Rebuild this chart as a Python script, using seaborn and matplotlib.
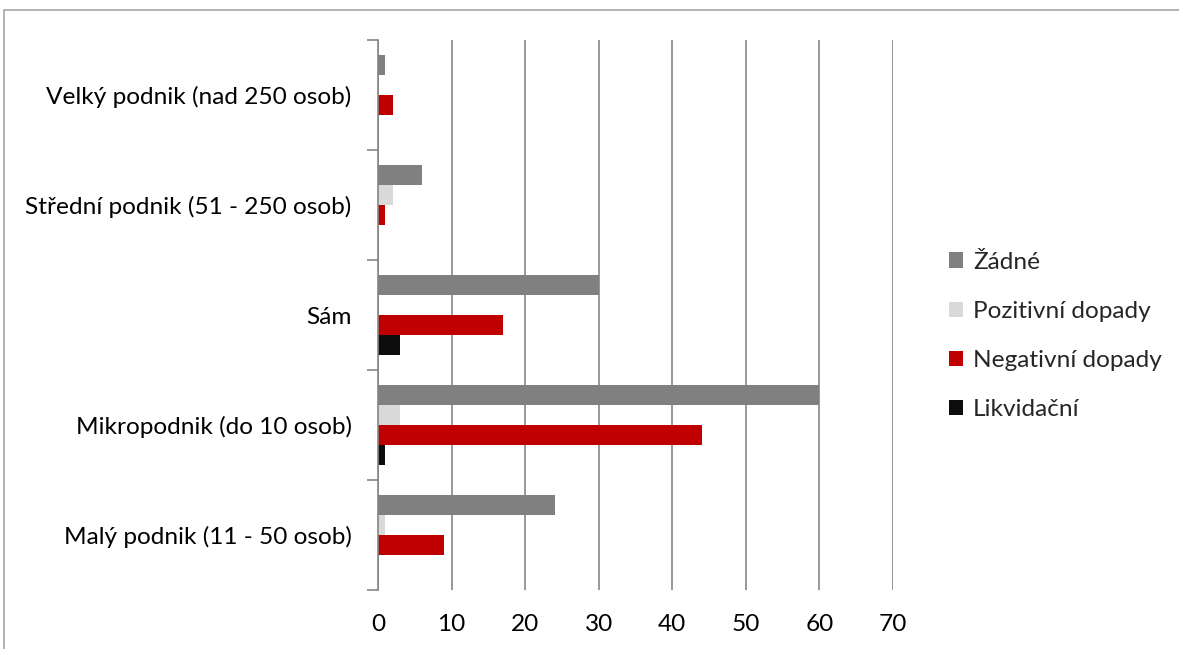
import pandas as pd
import numpy as np
import seaborn as sns
import matplotlib.pyplot as plt
from matplotlib.patches import Rectangle, Patch

# data
categories = ['Velký podnik (nad 250 osob)', 'Střední podnik (51 - 250 osob)', 'Sám',
              'Mikropodnik (do 10 osob)', 'Malý podnik (11 - 50 osob)']
series = ['Žádné', 'Pozitivní dopady', 'Negativní dopady', 'Likvidační']
zadne = [1, 6, 30, 60, 24]
pozitivni = [0, 2, 0, 3, 1]
negativni = [2, 1, 17, 44, 9]
likvidacni = [0, 0, 3, 1, 0]
colors = ['#808080', '#d9d9d9', '#c00000', '#0d0d0d']

rows = []
for name, vals in zip(series, [zadne, pozitivni, negativni, likvidacni]):
    for cat, v in zip(categories, vals):
        rows.append({'Kategorie': cat, 'Dopad': name, 'Počet': v})
df = pd.DataFrame(rows)

sns.set_style('white')
plt.rcParams['font.family'] = ['Lato', 'DejaVu Sans']

fig = plt.figure(figsize=(11.79, 6.49), dpi=100)
ax = fig.add_axes([378 / 1179, 1 - 590 / 649, (893 - 378) / 1179, 550 / 649])

sns.barplot(data=df, y='Kategorie', x='Počet', hue='Dopad', order=categories,
            hue_order=series, palette=colors, orient='h', width=0.73,
            saturation=1, linewidth=0, ax=ax, legend=False)

ax.set_xlim(0, 70)
ax.set_ylim(4.5, -0.5)
ax.set_xticks(range(0, 71, 10))
ax.xaxis.grid(True, color='#868686', linewidth=1.2)
ax.set_axisbelow(True)
ax.set_xlabel('')
ax.set_ylabel('')

for s in ['top', 'right', 'bottom']:
    ax.spines[s].set_visible(False)
ax.spines['left'].set_color('#868686')
ax.spines['left'].set_linewidth(1.2)

ax.set_yticks(np.arange(-0.5, 5, 1), minor=True)
ax.tick_params(axis='y', which='minor', length=8, color='#868686', width=1.2, direction='out', left=True)
ax.tick_params(axis='y', which='major', length=0, pad=19, labelsize=17.6, labelcolor='black')
ax.tick_params(axis='x', length=0, pad=17, labelsize=17.6, labelcolor='black')

handles = [Patch(facecolor=c, edgecolor='none') for c in colors]
fig.legend(handles, series, loc='upper left', bbox_to_anchor=(939 / 1179, 1 - 242 / 649),
           frameon=False, fontsize=17.6, handlelength=0.6, handleheight=0.6,
           handletextpad=0.4, labelspacing=1.15, borderaxespad=0)

# outer chart border
fig.patches.append(Rectangle((4 / 1179, -0.01), 1.2, 1 - 10 / 649 + 0.01, transform=fig.transFigure,
                             fill=False, edgecolor='#a6a6a6', linewidth=1.2))

fig.savefig('out.png', dpi=100)
